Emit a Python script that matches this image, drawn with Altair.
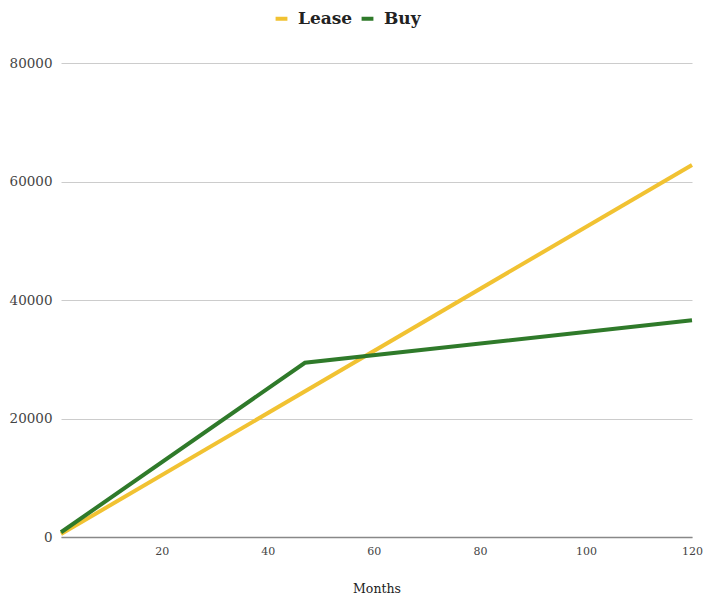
import altair as alt
import pandas as pd

# Cumulative cost by month for each option
lease_months = [1, 120]
lease_cost = [500, 62800]

buy_months = [1, 47, 120]
buy_cost = [800, 29400, 36600]

series = ["Lease", "Buy"]
colors = ["#F1C232", "#2F7A2A"]

x_ticks = [20, 40, 60, 80, 100, 120]
y_ticks = [0, 20000, 40000, 60000, 80000]

df = pd.concat([
    pd.DataFrame({"Months": lease_months, "Cost": lease_cost, "Option": "Lease", "o": 0}),
    pd.DataFrame({"Months": buy_months, "Cost": buy_cost, "Option": "Buy", "o": 1}),
])

font = "DejaVu Serif"

chart = alt.Chart(df).mark_line(strokeWidth=4).encode(
    x=alt.X("Months:Q",
            scale=alt.Scale(domain=[1, 120], nice=False, zero=False),
            axis=alt.Axis(values=x_ticks, title="Months", grid=False, ticks=False,
                          domainColor="#888888", domainWidth=1.5,
                          labelPadding=8, labelFontSize=11, labelColor="#444444",
                          labelFont=font, labelOverlap=False, labelBound=False,
                          labelFlush=False,
                          titleFont=font, titleFontSize=12.5, titleFontWeight="normal",
                          titleColor="#222222", titlePadding=26)),
    y=alt.Y("Cost:Q",
            scale=alt.Scale(domain=[0, 80000], nice=False),
            axis=alt.Axis(values=y_ticks, title=None, domain=False, ticks=False,
                          gridColor="#cccccc", labelPadding=9, labelFontSize=13.5,
                          labelColor="#444444", labelFont=font, format="d")),
    color=alt.Color("Option:N",
                    scale=alt.Scale(domain=series, range=colors),
                    legend=alt.Legend(title=None, orient="none", direction="horizontal",
                                      legendX=212, legendY=-53,
                                      symbolType="stroke", symbolStrokeWidth=4,
                                      symbolSize=140, labelFont=font, labelFontSize=17,
                                      labelFontWeight="bold", labelColor="#222222",
                                      columnPadding=0, labelOffset=8)),
    order=alt.Order("o:Q"),
    detail="o:Q",
).properties(
    width=631,
    height=474,
    autosize=alt.AutoSizeParams(type="none"),
    padding={"left": 61, "top": 63, "right": 14, "bottom": 59},
).configure(background="white").configure_view(stroke=None)

chart.save("out.html", embed_options={"renderer": "svg", "actions": False})
